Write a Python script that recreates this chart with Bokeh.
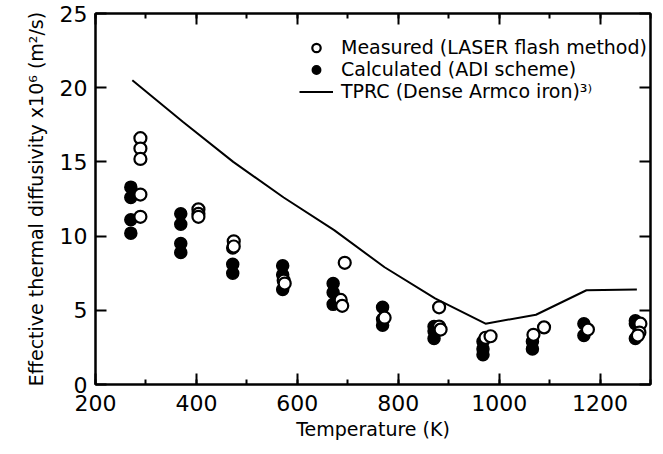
from bokeh.plotting import figure
from bokeh.models import (Range1d, LinearAxis, SingleIntervalTicker, FixedTicker,
                          Legend, LegendItem)
from bokeh.embed import file_html
from bokeh.resources import INLINE

# ---- data ----
meas_T = [289, 289, 289, 289, 289, 404, 404, 404, 474, 474, 573, 575,
          694, 686, 689, 773, 881, 881, 884, 973, 983, 1068, 1089, 1176,
          1280, 1278, 1275]
meas_D = [16.6, 15.9, 15.2, 12.8, 11.3, 11.8, 11.5, 11.3, 9.65, 9.3, 7.0, 6.8,
          8.2, 5.7, 5.3, 4.5, 5.2, 3.9, 3.7, 3.15, 3.25, 3.35, 3.85, 3.7,
          4.1, 3.5, 3.3]

calc_T = [270, 270, 270, 270, 369, 369, 369, 369, 472, 472, 472, 571, 571, 571,
          671, 671, 671, 769, 769, 769, 871, 871, 871, 968, 968, 968,
          1066, 1066, 1168, 1168, 1270, 1270, 1270]
calc_D = [13.3, 12.6, 11.1, 10.2, 11.5, 10.8, 9.5, 8.9, 9.2, 8.1, 7.5, 8.0, 7.4, 6.4,
          6.8, 6.2, 5.4, 5.2, 4.4, 4.0, 3.9, 3.6, 3.1, 2.9, 2.4, 2.0,
          2.9, 2.4, 4.1, 3.3, 4.3, 4.1, 3.1]

tprc_T = [273, 373, 473, 573, 673, 773, 873, 973, 1073, 1173, 1273]
tprc_D = [20.5, 17.7, 15.0, 12.6, 10.4, 7.9, 5.8, 4.1, 4.7, 6.35, 6.4]

x_ticks = [200, 400, 600, 800, 1000, 1200]
y_ticks = [0, 5, 10, 15, 20, 25]

FONT = "DejaVu Sans"

p = figure(width=658, height=446, output_backend="svg", toolbar_location=None,
           x_range=Range1d(200, 1300), y_range=Range1d(0, 25),
           min_border_left=95, min_border_right=8, min_border_top=13,
           min_border_bottom=62)
p.background_fill_color = "white"
p.border_fill_color = "white"
p.grid.visible = False
p.outline_line_color = "black"
p.outline_line_width = 2

p.xaxis.ticker = SingleIntervalTicker(interval=200, num_minor_ticks=2)
p.yaxis.ticker = FixedTicker(ticks=y_ticks)

for ax in (p.xaxis[0], p.yaxis[0]):
    ax.axis_line_width = 2
    ax.major_tick_line_width = 2
    ax.minor_tick_line_width = 2
    ax.major_tick_in = 11
    ax.major_tick_out = 0
    ax.minor_tick_in = 5
    ax.minor_tick_out = 0
    ax.major_label_text_font = FONT
    ax.major_label_text_font_size = "22px"
    ax.major_label_text_color = "black"
    ax.axis_label_text_font = FONT
    ax.axis_label_text_font_size = "19px"
    ax.axis_label_text_font_style = "normal"
    ax.axis_label_text_color = "black"

p.xaxis.axis_label = "Temperature (K)"
p.yaxis.axis_label = "Effective thermal diffusivity x10\u2076 (m\u00b2/s)"
p.xaxis.major_label_standoff = 10
p.xaxis.axis_label_standoff = 4
p.yaxis.major_label_standoff = 8
p.yaxis.axis_label_standoff = 10
p.yaxis.minor_tick_line_color = None

# mirrored axes on top and right (ticks only, no labels)
top = LinearAxis(ticker=SingleIntervalTicker(interval=200, num_minor_ticks=2),
                 major_label_overrides={t: "" for t in range(0, 1401, 200)})
right = LinearAxis(ticker=FixedTicker(ticks=y_ticks),
                   major_label_overrides={t: "" for t in y_ticks})
for ax in (top, right):
    ax.axis_line_width = 2
    ax.major_tick_line_width = 2
    ax.minor_tick_line_width = 2
    ax.major_tick_in = 11
    ax.major_tick_out = 0
    ax.minor_tick_in = 5
    ax.minor_tick_out = 0
    ax.major_label_standoff = 0
right.minor_tick_line_color = None
p.add_layout(top, "above")
p.add_layout(right, "right")

line = p.line(tprc_T, tprc_D, line_color="black", line_width=2)
calc = p.scatter(calc_T, calc_D, marker="circle", size=12,
                 fill_color="black", line_color="black", line_width=1.5)
meas = p.scatter(meas_T, meas_D, marker="circle", size=12,
                 fill_color="white", line_color="black", line_width=2.2)

legend = Legend(items=[
    LegendItem(label="Measured (LASER flash method)", renderers=[meas]),
    LegendItem(label="Calculated (ADI scheme)", renderers=[calc]),
    LegendItem(label="TPRC (Dense Armco iron)\u00b3\u207e", renderers=[line]),
], location=(204, 282))
legend.label_text_font = FONT
legend.label_text_font_size = "19px"
legend.label_text_color = "black"
legend.border_line_color = None
legend.background_fill_alpha = 0
legend.padding = 0
legend.margin = 0
legend.spacing = 0
legend.glyph_width = 34
legend.glyph_height = 21
legend.label_height = 21
legend.label_standoff = 8
p.add_layout(legend, "center")

open("out.html", "w").write(file_html(p, INLINE))
